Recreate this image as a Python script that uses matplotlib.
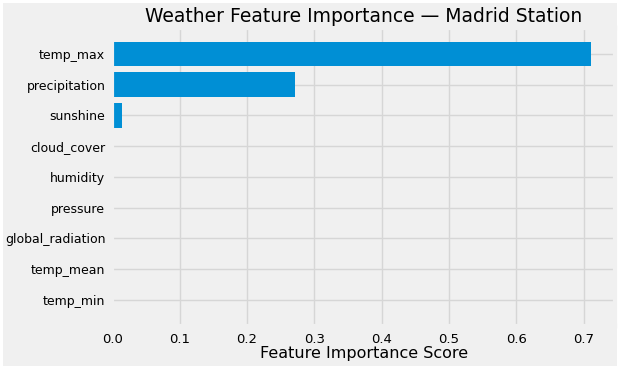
import matplotlib
matplotlib.use("Agg")
import matplotlib.pyplot as plt

features = ["temp_max", "precipitation", "sunshine", "cloud_cover", "humidity",
            "pressure", "global_radiation", "temp_mean", "temp_min"]
importance = [0.711, 0.272, 0.015, 0.0, 0.0, 0.0, 0.0, 0.0, 0.0]

plt.style.use("fivethirtyeight")
plt.rcParams['font.family'] = ['DejaVu Sans']

fig = plt.figure(figsize=(6.2, 3.69), dpi=100)
fig.patch.set_edgecolor("white")
fig.patch.set_linewidth(3)
ax = fig.add_axes([0.181, 0.117, 0.811, 0.807])

ax.barh(features[::-1], importance[::-1], color="#008fd5", height=0.8)
ax.set_title("Weather Feature Importance — Madrid Station", fontsize=13.5, pad=4)
ax.set_xlabel("Feature Importance Score", fontsize=11.5, labelpad=0)
ax.tick_params(axis="x", labelsize=9.5, pad=5)
ax.tick_params(axis="y", labelsize=9, pad=5)
ax.set_xticks([0.0, 0.1, 0.2, 0.3, 0.4, 0.5, 0.6, 0.7])
ax.grid(color="#d6d6d6")

fig.savefig("out.png", dpi=100, facecolor=fig.get_facecolor(), edgecolor="white")
